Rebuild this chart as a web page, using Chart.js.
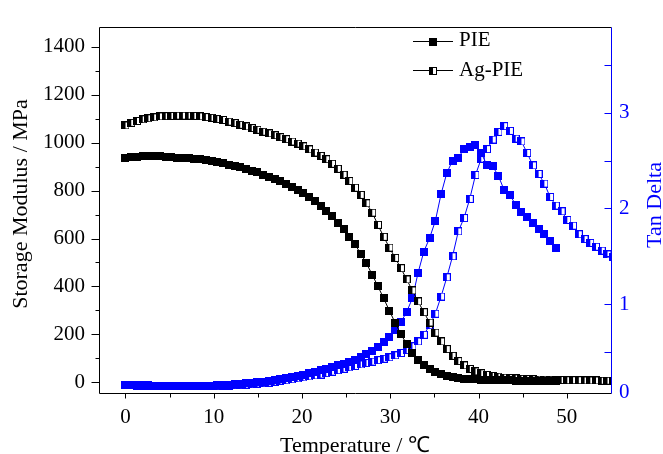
<!DOCTYPE html>
<html>
<head>
<meta charset="utf-8">
<script src="https://cdn.jsdelivr.net/npm/chart.js@4.4.0/dist/chart.umd.min.js"></script>
<style>
  body { margin: 0; background: #fff; }
  #wrap { width: 663px; height: 454px; }
</style>
</head>
<body>
<div id="wrap"><canvas id="dmaChart"></canvas></div>
<script>
// temperature points (°C), shared by both samples
const temps = [0, 0.65, 1.3, 1.95, 2.6, 3.25, 3.9, 4.55, 5.2, 5.85,
  6.5, 7.15, 7.8, 8.45, 9.1, 9.75, 10.4, 11.05, 11.7, 12.35,
  13, 13.65, 14.3, 14.95, 15.6, 16.25, 16.9, 17.55, 18.2, 18.85,
  19.5, 20.15, 20.8, 21.45, 22.1, 22.75, 23.4, 24.05, 24.7, 25.35,
  26, 26.65, 27.3, 27.95, 28.6, 29.25, 29.9, 30.55, 31.2, 31.85,
  32.5, 33.15, 33.8, 34.45, 35.1, 35.75, 36.4, 37.05, 37.7, 38.35,
  39, 39.65, 40.3, 40.95, 41.6, 42.25, 42.9, 43.55, 44.2, 44.85,
  45.5, 46.15, 46.8, 47.45, 48.1, 48.75, 49.4, 50.05, 50.7, 51.35,
  52, 52.65, 53.3, 53.95, 54.6, 55.25];

// storage modulus (MPa)
const pie_modulus = [935, 939, 942, 944, 944, 944, 943, 941, 940, 938,
  937, 935, 933, 930, 927, 923, 919, 914, 908, 903,
  897, 890, 883, 876, 867, 858, 849, 839, 829, 817,
  804, 790, 773, 756, 737, 715, 693, 666, 638, 608,
  575, 537, 496, 449, 400, 350, 298, 248, 201, 159,
  123, 94, 71, 54, 41, 33, 27, 22, 18, 15,
  13, 12, 10, 9, 8, 8, 7, 7, 6, 6,
  5, 5, 5, 4, 4, 4];
const ag_modulus = [1072, 1083, 1091, 1098, 1102, 1106, 1110, 1111, 1112, 1113,
  1113, 1113, 1112, 1110, 1107, 1104, 1099, 1095, 1088, 1082,
  1075, 1068, 1061, 1054, 1046, 1039, 1031, 1023, 1015, 1005,
  996, 985, 972, 959, 945, 931, 912, 891, 866, 840,
  812, 782, 747, 708, 657, 607, 562, 519, 476, 429,
  383, 337, 292, 249, 207, 170, 138, 110, 88, 70,
  55, 45, 37, 30, 26, 23, 19, 17, 16, 14,
  13, 12, 11, 10.5, 10, 9, 9, 8, 8, 8,
  7, 7, 7, 6, 6, 6];

// tan delta
const pie_tan = [0.16, 0.16, 0.16, 0.155, 0.155, 0.15, 0.15, 0.15, 0.15, 0.15,
  0.15, 0.15, 0.15, 0.15, 0.15, 0.15, 0.155, 0.16, 0.16, 0.165,
  0.17, 0.175, 0.18, 0.185, 0.19, 0.2, 0.21, 0.22, 0.23, 0.24,
  0.25, 0.265, 0.28, 0.295, 0.31, 0.325, 0.34, 0.36, 0.38, 0.4,
  0.42, 0.45, 0.48, 0.51, 0.55, 0.6, 0.66, 0.73, 0.81, 0.92,
  1.06, 1.33, 1.55, 1.69, 1.87, 2.15, 2.37, 2.5, 2.53, 2.62,
  2.64, 2.66, 2.58, 2.45, 2.44, 2.34, 2.19, 2.14, 2.04, 1.96,
  1.91, 1.85, 1.79, 1.73, 1.66, 1.59];
const ag_tan = [0.155, 0.155, 0.15, 0.15, 0.15, 0.145, 0.145, 0.145, 0.145, 0.145,
  0.145, 0.145, 0.145, 0.145, 0.145, 0.145, 0.145, 0.15, 0.15, 0.155,
  0.155, 0.16, 0.165, 0.17, 0.175, 0.18, 0.19, 0.2, 0.205, 0.215,
  0.225, 0.235, 0.245, 0.255, 0.265, 0.28, 0.295, 0.31, 0.325, 0.34,
  0.355, 0.37, 0.385, 0.4, 0.415, 0.43, 0.445, 0.465, 0.49, 0.52,
  0.56, 0.61, 0.68, 0.78, 0.9, 1.08, 1.28, 1.5, 1.76, 1.9,
  2.1, 2.35, 2.52, 2.62, 2.72, 2.8, 2.86, 2.81, 2.73, 2.7,
  2.58, 2.45, 2.36, 2.26, 2.12, 2.03, 1.97, 1.88, 1.82, 1.73,
  1.68, 1.64, 1.6, 1.56, 1.52, 1.49];

const series_names = ['PIE', 'Ag-PIE'];

// ticks
const x_ticks = [0, 10, 20, 30, 40, 50];
const x_minor = [5, 15, 25, 35, 45];
const y_ticks = [0, 200, 400, 600, 800, 1000, 1200, 1400];
const y_minor = [100, 300, 500, 700, 900, 1100, 1300];
const y2_ticks = [1, 2, 3];
const y2_minor = [0.5, 1.5, 2.5, 3.5];

const serif = "'Liberation Serif', 'Times New Roman', serif";
const blue = 'rgb(0, 0, 255)';

function makeMarker(color, half) {
    const n = 8;
    const c = document.createElement('canvas');
    c.width = n;
    c.height = n;
    const g = c.getContext('2d');
    if (half) {
        g.fillStyle = '#fff';
        g.fillRect(0, 0, n, n);
        g.fillStyle = color;
        g.fillRect(0, 0, n / 2, n);
        g.strokeStyle = color;
        g.lineWidth = 1;
        g.strokeRect(0.5, 0.5, n - 1, n - 1);
    } else {
        g.fillStyle = color;
        g.fillRect(0, 0, n, n);
    }
    return c;
}

const mk_pie = makeMarker('#000', false);
const mk_ag = makeMarker('#000', true);
const mk_pie_blue = makeMarker(blue, false);
const mk_ag_blue = makeMarker(blue, true);

function toPoints(values) {
    return values.map((v, i) => ({ x: temps[i], y: v }));
}

function series(label, values, axis, color, marker) {
    return {
        label: label,
        data: toPoints(values),
        yAxisID: axis,
        showLine: true,
        borderColor: color,
        borderWidth: 1,
        pointStyle: marker,
        pointRadius: 4,
        pointHoverRadius: 4
    };
}

// axis lines, tick marks, titles and legend
const frame_plugin = {
    id: 'frame',
    afterDraw(chart) {
        const ctx = chart.ctx;
        const a = chart.chartArea;
        const sx = chart.scales.x;
        const sy = chart.scales.y;
        const sy2 = chart.scales.y2;
        const L = Math.round(a.left) + 0.5;
        const R = Math.round(a.right) + 0.5;
        const T = Math.round(a.top) + 0.5;
        const B = Math.round(a.bottom) + 0.5;
        ctx.save();
        ctx.lineWidth = 1;

        ctx.strokeStyle = '#000';
        ctx.beginPath();
        ctx.moveTo(L, T); ctx.lineTo(R, T);
        ctx.moveTo(L, T); ctx.lineTo(L, B); ctx.lineTo(R, B);
        y_ticks.forEach(v => { const p = Math.round(sy.getPixelForValue(v)) + 0.5; ctx.moveTo(L - 8, p); ctx.lineTo(L, p); });
        y_minor.forEach(v => { const p = Math.round(sy.getPixelForValue(v)) + 0.5; ctx.moveTo(L - 4, p); ctx.lineTo(L, p); });
        x_ticks.forEach(v => { const p = Math.round(sx.getPixelForValue(v)) + 0.5; ctx.moveTo(p, B); ctx.lineTo(p, B + 5); });
        x_minor.forEach(v => { const p = Math.round(sx.getPixelForValue(v)) + 0.5; ctx.moveTo(p, B); ctx.lineTo(p, B + 4); });
        ctx.stroke();

        ctx.strokeStyle = blue;
        ctx.beginPath();
        ctx.moveTo(R, T); ctx.lineTo(R, B);
        y2_ticks.concat(y2_minor).forEach(v => { const p = Math.round(sy2.getPixelForValue(v)) + 0.5; ctx.moveTo(R - 7, p); ctx.lineTo(R, p); });
        ctx.stroke();

        // axis titles
        ctx.font = '22px ' + serif;
        ctx.textAlign = 'center';
        ctx.textBaseline = 'alphabetic';
        ctx.fillStyle = '#000';
        ctx.fillText('Temperature / \u2103', (a.left + a.right) / 2, 452);

        ctx.save();
        ctx.translate(27, 204);
        ctx.rotate(-Math.PI / 2);
        ctx.fillText('Storage Modulus / MPa', 0, 0);
        ctx.restore();

        ctx.save();
        ctx.fillStyle = blue;
        ctx.translate(661, 205);
        ctx.rotate(-Math.PI / 2);
        ctx.fillText('Tan Delta', 0, 0);
        ctx.restore();

        // legend
        const rows = [[series_names[0], mk_pie, 40.5], [series_names[1], mk_ag, 70]];
        ctx.font = '21px ' + serif;
        ctx.textAlign = 'left';
        ctx.textBaseline = 'middle';
        rows.forEach(r => {
            const y = Math.round(r[2]) + 0.5;
            ctx.strokeStyle = '#000';
            ctx.beginPath();
            ctx.moveTo(413, y); ctx.lineTo(453, y);
            ctx.stroke();
            ctx.drawImage(r[1], 429, Math.round(r[2]) - 3);
            ctx.fillStyle = '#000';
            ctx.fillText(r[0], 459, r[2]);
        });
        ctx.restore();
    }
};

const config = {
    type: 'scatter',
    data: {
        datasets: [
            series(series_names[0], pie_modulus, 'y', '#000', mk_pie),
            series(series_names[1], ag_modulus, 'y', '#000', mk_ag),
            series(series_names[0], pie_tan, 'y2', blue, mk_pie_blue),
            series(series_names[1], ag_tan, 'y2', blue, mk_ag_blue)
        ]
    },
    options: {
        responsive: true,
        maintainAspectRatio: false,
        animation: false,
        layout: { padding: { top: 11.7, left: 0, right: 0, bottom: 0 } },
        plugins: {
            legend: { display: false },
            tooltip: { enabled: false }
        },
        scales: {
            x: {
                type: 'linear',
                min: -3,
                max: 55,
                grid: { display: false, drawTicks: false },
                border: { display: false },
                afterBuildTicks: s => { s.ticks = x_ticks.map(v => ({ value: v })); },
                afterFit: s => { s.height = 454 - 392.7; },
                ticks: {
                    padding: 12,
                    color: '#000',
                    autoSkip: false,
                    maxRotation: 0,
                    font: { family: serif, size: 21 },
                    callback: v => String(v)
                }
            },
            y: {
                type: 'linear',
                position: 'left',
                min: -44,
                max: 1485,
                grid: { display: false, drawTicks: false },
                border: { display: false },
                afterBuildTicks: s => { s.ticks = y_ticks.map(v => ({ value: v })); },
                afterFit: s => { s.width = 99; },
                ticks: {
                    padding: 14,
                    color: '#000',
                    autoSkip: false,
                    font: { family: serif, size: 21 },
                    callback: v => String(v)
                }
            },
            y2: {
                type: 'linear',
                position: 'right',
                min: 0.075,
                max: 3.9,
                grid: { display: false, drawTicks: false },
                border: { display: false },
                afterBuildTicks: s => { s.ticks = [{ value: 0.075 }].concat(y2_ticks.map(v => ({ value: v }))); },
                afterFit: s => { s.width = 52; },
                ticks: {
                    padding: 8,
                    color: blue,
                    autoSkip: false,
                    font: { family: serif, size: 21 },
                    callback: v => (v < 0.5 ? '0' : String(v))
                }
            }
        }
    },
    plugins: [frame_plugin]
};

const ctx = document.getElementById('dmaChart').getContext('2d');
const dmaChart = new Chart(ctx, config);
</script>
</body>
</html>
